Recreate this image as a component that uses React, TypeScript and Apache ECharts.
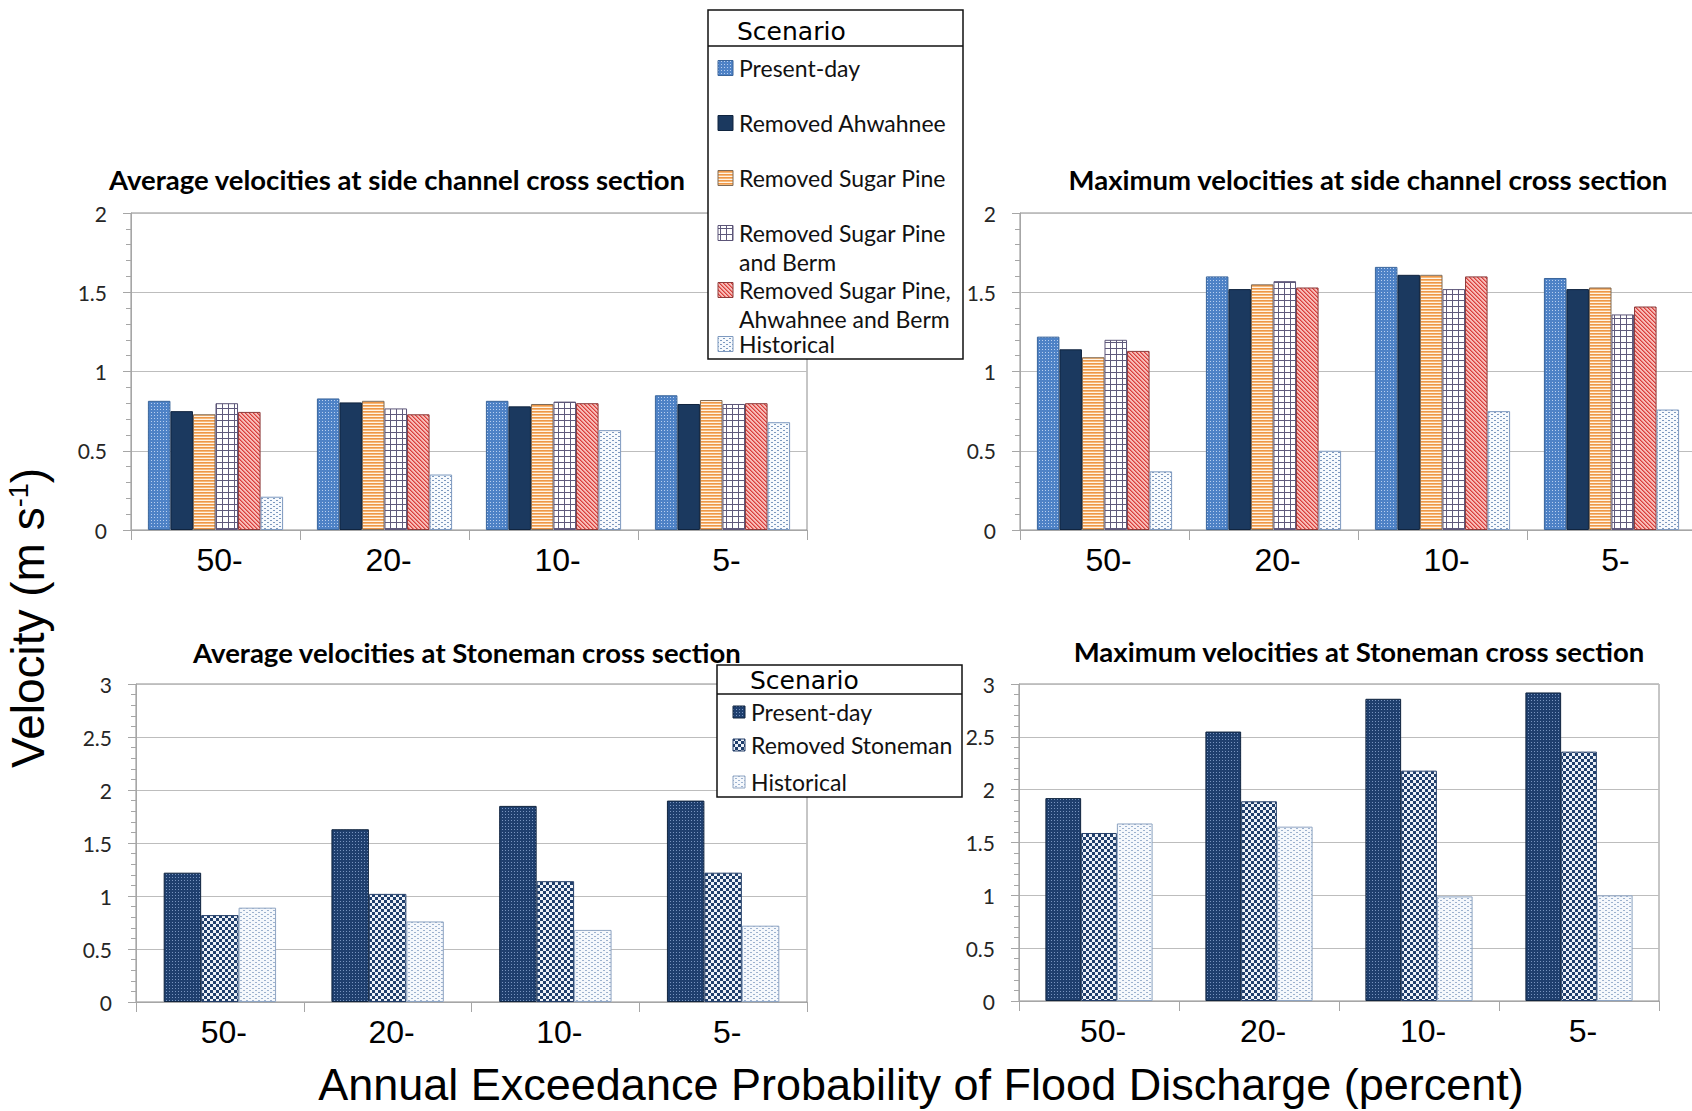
import React, { useEffect, useRef } from 'react';
import * as echarts from 'echarts';

// ---------- data ----------
const categories = ['50-', '20-', '10-', '5-'];

const sideScenarios = [
  'Present-day',
  'Removed Ahwahnee',
  'Removed Sugar Pine',
  'Removed Sugar Pine\nand Berm',
  'Removed Sugar Pine,\nAhwahnee and Berm',
  'Historical',
];
const stonemanScenarios = ['Present-day', 'Removed Stoneman', 'Historical'];

// Average velocities at side channel cross section (m/s)
const sideAvgPresentDay = [0.815, 0.83, 0.815, 0.85];
const sideAvgNoAhwahnee = [0.75, 0.805, 0.78, 0.795];
const sideAvgNoSugarPine = [0.73, 0.815, 0.795, 0.82];
const sideAvgNoSugarPineBerm = [0.8, 0.767, 0.81, 0.795];
const sideAvgNoAll = [0.745, 0.73, 0.8, 0.8];
const sideAvgHistorical = [0.21, 0.35, 0.63, 0.68];

// Maximum velocities at side channel cross section (m/s)
const sideMaxPresentDay = [1.22, 1.6, 1.66, 1.59];
const sideMaxNoAhwahnee = [1.14, 1.52, 1.61, 1.52];
const sideMaxNoSugarPine = [1.09, 1.55, 1.61, 1.53];
const sideMaxNoSugarPineBerm = [1.2, 1.57, 1.52, 1.36];
const sideMaxNoAll = [1.13, 1.53, 1.6, 1.41];
const sideMaxHistorical = [0.37, 0.5, 0.75, 0.76];

// Average velocities at Stoneman cross section (m/s)
const stoneAvgPresentDay = [1.22, 1.63, 1.85, 1.9];
const stoneAvgNoStoneman = [0.82, 1.02, 1.14, 1.22];
const stoneAvgHistorical = [0.89, 0.76, 0.68, 0.72];

// Maximum velocities at Stoneman cross section (m/s)
const stoneMaxPresentDay = [1.92, 2.55, 2.86, 2.92];
const stoneMaxNoStoneman = [1.59, 1.89, 2.18, 2.36];
const stoneMaxHistorical = [1.68, 1.65, 0.99, 1.0];

const sideAxisMax = 2;
const stoneAxisMax = 3;
const tickStep = 0.5;

const panelTitles = [
  'Average velocities at side channel cross section',
  'Maximum velocities at side channel cross section',
  'Average velocities at Stoneman cross section',
  'Maximum velocities at Stoneman cross section',
];
const yTitle = ['Velocity (m s', '-1', ')'];
const xTitle = 'Annual Exceedance Probability of Flood Discharge (percent)';
const legendHeading = 'Scenario';

// ---------- fill patterns ----------
type Mark = [number, number, number, number, string];
function makePattern(w: number, h: number, bg: string, marks: Mark[]) {
  const c = document.createElement('canvas');
  c.width = w;
  c.height = h;
  const ctx = c.getContext('2d') as CanvasRenderingContext2D;
  ctx.fillStyle = bg;
  ctx.fillRect(0, 0, w, h);
  marks.forEach(([x, y, mw, mh, col]) => {
    ctx.fillStyle = col;
    ctx.fillRect(x, y, mw, mh);
  });
  return { image: c.toDataURL(), repeat: 'repeat', imageWidth: w, imageHeight: h } as any;
}

function buildStyles() {
  const sideStyles = [
    { fill: makePattern(3, 3, '#4e82c6', [[1, 1, 1, 1, '#b8cff0']]), border: '#3a659b' },
    { fill: '#1b395f', border: '#10243f' },
    {
      fill: makePattern(1, 3, '#fff4e6', [
        [0, 0, 1, 1, '#ee9748'],
        [0, 1, 1, 1, '#f6b878'],
      ]),
      border: '#7f6a55',
    },
    {
      fill: makePattern(6, 6, '#ffffff', [
        [0, 0, 6, 1, '#5f5a7c'],
        [0, 0, 1, 6, '#5f5a7c'],
      ]),
      border: '#5c5578',
    },
    {
      fill: makePattern(4, 4, '#f8bcb7', [
        [0, 0, 1, 1, '#d83f3d'],
        [1, 1, 1, 1, '#d83f3d'],
        [2, 2, 1, 1, '#d83f3d'],
        [3, 3, 1, 1, '#d83f3d'],
        [1, 0, 1, 1, '#e97a75'],
        [2, 1, 1, 1, '#e97a75'],
        [3, 2, 1, 1, '#e97a75'],
        [0, 3, 1, 1, '#e97a75'],
      ]),
      border: '#8c3a3a',
    },
    {
      fill: makePattern(6, 4, '#f7fafd', [
        [0, 0, 2, 1, '#7d99bf'],
        [3, 2, 2, 1, '#7d99bf'],
      ]),
      border: '#7d99bf',
    },
  ];
  const stoneStyles = [
    { fill: makePattern(3, 3, '#1f3f6e', [[1, 1, 1, 1, '#7894bf']]), border: '#10243f' },
    {
      fill: makePattern(6, 6, '#eef2f8', [
        [0, 0, 3, 3, '#203f6c'],
        [3, 3, 3, 3, '#203f6c'],
      ]),
      border: '#26406a',
    },
    {
      fill: makePattern(6, 4, '#f5f8fc', [
        [0, 0, 2, 1, '#9db2cf'],
        [3, 2, 2, 1, '#9db2cf'],
      ]),
      border: '#8ea4c2',
    },
  ];
  return { sideStyles, stoneStyles };
}

// ---------- layout ----------
const panels = [
  {
    grid: { left: 131, top: 213, width: 676, height: 317 },
    max: sideAxisMax,
    data: [sideAvgPresentDay, sideAvgNoAhwahnee, sideAvgNoSugarPine, sideAvgNoSugarPineBerm, sideAvgNoAll, sideAvgHistorical],
    kind: 'side',
    gap: '20%',
    titlePos: [397, 179],
  },
  {
    grid: { left: 1020, top: 213, width: 676, height: 317 },
    max: sideAxisMax,
    data: [sideMaxPresentDay, sideMaxNoAhwahnee, sideMaxNoSugarPine, sideMaxNoSugarPineBerm, sideMaxNoAll, sideMaxHistorical],
    kind: 'side',
    gap: '20%',
    titlePos: [1368, 179],
  },
  {
    grid: { left: 136, top: 684, width: 671, height: 318 },
    max: stoneAxisMax,
    data: [stoneAvgPresentDay, stoneAvgNoStoneman, stoneAvgHistorical],
    kind: 'stone',
    gap: '33%',
    titlePos: [467, 652],
  },
  {
    grid: { left: 1019, top: 684, width: 640, height: 317 },
    max: stoneAxisMax,
    data: [stoneMaxPresentDay, stoneMaxNoStoneman, stoneMaxHistorical],
    kind: 'stone',
    gap: '33%',
    titlePos: [1359, 651],
  },
];

const AXIS_GRAY = '#a6a6a6';
const TOP_Z = 100;
const LEGEND_LINE_STEP = 28.5;

function legendBox(
  box: { x: number; y: number; w: number; h: number; headerY: number; headX: number; headY: number },
  names: string[],
  styles: { fill: any; border: string }[],
  rowY: number[],
  iconX: number,
  iconSize: number,
  textX: number,
) {
  const els: any[] = [
    {
      type: 'rect',
      z: TOP_Z,
      shape: { x: box.x, y: box.y, width: box.w, height: box.h },
      style: { fill: '#ffffff', stroke: '#111111', lineWidth: 1.5 },
    },
    {
      type: 'line',
      z: TOP_Z + 1,
      shape: { x1: box.x, y1: box.headerY, x2: box.x + box.w, y2: box.headerY },
      style: { stroke: '#111111', lineWidth: 1.5 },
    },
    {
      type: 'text',
      z: TOP_Z + 1,
      style: {
        text: legendHeading,
        x: box.headX,
        y: box.headY,
        fill: '#000000',
        font: '25px "DejaVu Sans"',
        align: 'left',
        verticalAlign: 'middle',
        textAlign: 'left',
        textVerticalAlign: 'middle',
      },
    },
  ];
  names.forEach((name, i) => {
    const cy = rowY[i];
    els.push({
      type: 'rect',
      z: TOP_Z + 1,
      shape: { x: iconX, y: cy - iconSize / 2, width: iconSize, height: iconSize },
      style: { fill: styles[i].fill, stroke: styles[i].border, lineWidth: 1 },
    });
    // wrapped names: one text per line so each line sits at its own row
    name.split('\n').forEach((line, k) => {
      els.push({
        type: 'text',
        z: TOP_Z + 1,
        style: {
          text: line,
          x: textX,
          y: cy + k * LEGEND_LINE_STEP,
          fill: '#111111',
          font: '23px Lato',
          lineHeight: 24,
          align: 'left',
          verticalAlign: 'middle',
          textAlign: 'left',
          textVerticalAlign: 'middle',
        },
      });
    });
  });
  return els;
}

function buildOption() {
  const { sideStyles, stoneStyles } = buildStyles();
  const grids: any[] = [];
  const xAxes: any[] = [];
  const yAxes: any[] = [];
  const series: any[] = [];
  const graphics: any[] = [];

  panels.forEach((p, pi) => {
    grids.push({
      ...p.grid,
      show: true,
      borderColor: '#8c8c8c',
      borderWidth: 1,
      backgroundColor: 'transparent',
      containLabel: false,
      outerBoundsMode: 'none',
    });
    xAxes.push({
      type: 'category',
      gridIndex: pi,
      data: categories,
      axisLine: { show: true, lineStyle: { color: AXIS_GRAY, width: 1 } },
      axisTick: { show: true, length: 10, lineStyle: { color: AXIS_GRAY } },
      axisLabel: {
        fontFamily: '"Liberation Sans", Arial, sans-serif',
        fontSize: 32,
        color: '#000000',
        margin: 14,
        padding: [0, 0, 0, 8],
      },
      splitLine: { show: false },
    });
    yAxes.push({
      type: 'value',
      gridIndex: pi,
      min: 0,
      max: p.max,
      interval: tickStep,
      axisLine: { show: true, lineStyle: { color: AXIS_GRAY, width: 1 } },
      axisTick: { show: true, length: 8, lineStyle: { color: AXIS_GRAY } },
      minorTick: { show: true, splitNumber: 5, length: 5, lineStyle: { color: AXIS_GRAY } },
      splitLine: { show: true, lineStyle: { color: '#bdbdbd', width: 1 } },
      axisLabel: { fontFamily: 'Lato', fontSize: 21, color: '#262626', margin: 24 },
    });
    const names = p.kind === 'side' ? sideScenarios : stonemanScenarios;
    const styles = p.kind === 'side' ? sideStyles : stoneStyles;
    p.data.forEach((vals, si) => {
      series.push({
        type: 'bar',
        name: names[si],
        xAxisIndex: pi,
        yAxisIndex: pi,
        data: vals,
        barGap: '0%',
        barCategoryGap: p.gap,
        silent: true,
        emphasis: { disabled: true },
        itemStyle: { color: styles[si].fill, borderColor: styles[si].border, borderWidth: 1 },
      });
    });
    graphics.push({
      type: 'text',
      z: TOP_Z,
      style: {
        text: panelTitles[pi],
        x: p.titlePos[0],
        y: p.titlePos[1],
        fill: '#000000',
        font: 'bold 27.5px Lato',
        align: 'center',
        verticalAlign: 'middle',
        textAlign: 'center',
        textVerticalAlign: 'middle',
      },
    });
  });

  // scenario legends
  graphics.push(
    ...legendBox(
      { x: 708, y: 10, w: 255, h: 349, headerY: 46, headX: 737, headY: 31 },
      sideScenarios,
      sideStyles,
      [68, 123, 178, 233, 290, 344],
      718,
      15,
      739,
    ),
  );
  graphics.push(
    ...legendBox(
      { x: 717, y: 665, w: 245, h: 132, headerY: 694, headX: 750, headY: 680 },
      stonemanScenarios,
      stoneStyles,
      [712, 745, 782],
      733,
      12,
      751,
    ),
  );

  // shared axis titles
  graphics.push({
    type: 'text',
    z: TOP_Z,
    x: 28,
    y: 618,
    rotation: Math.PI / 2,
    style: {
      text: `{a|${yTitle[0]}}{b|${yTitle[1]}}{a|${yTitle[2]}}`,
      x: 0,
      y: 0,
      align: 'center',
      verticalAlign: 'middle',
      textAlign: 'center',
      textVerticalAlign: 'middle',
      rich: {
        a: { fontFamily: '"Liberation Sans", Arial, sans-serif', fontSize: 46, fill: '#000000', color: '#000000' },
        b: {
          fontFamily: '"Liberation Sans", Arial, sans-serif',
          fontSize: 27,
          fill: '#000000',
          color: '#000000',
          verticalAlign: 'top',
        },
      },
    },
  });
  graphics.push({
    type: 'text',
    z: TOP_Z,
    style: {
      text: xTitle,
      x: 921,
      y: 1084,
      fill: '#000000',
      font: '45px "Liberation Sans", Arial, sans-serif',
      align: 'center',
      verticalAlign: 'middle',
      textAlign: 'center',
      textVerticalAlign: 'middle',
    },
  });

  return {
    animation: false,
    backgroundColor: '#ffffff',
    grid: grids,
    xAxis: xAxes,
    yAxis: yAxes,
    series,
    graphic: { elements: graphics },
  };
}

export default function App() {
  const ref = useRef<HTMLDivElement>(null);
  useEffect(() => {
    if (!ref.current) return;
    const chart = echarts.init(ref.current, undefined, { renderer: 'svg' });
    chart.setOption(buildOption() as any);
    return () => chart.dispose();
  }, []);
  return (
    <div
      ref={ref}
      style={{ position: 'absolute', left: 0, top: 0, width: 1692, height: 1111, background: '#ffffff' }}
    />
  );
}
